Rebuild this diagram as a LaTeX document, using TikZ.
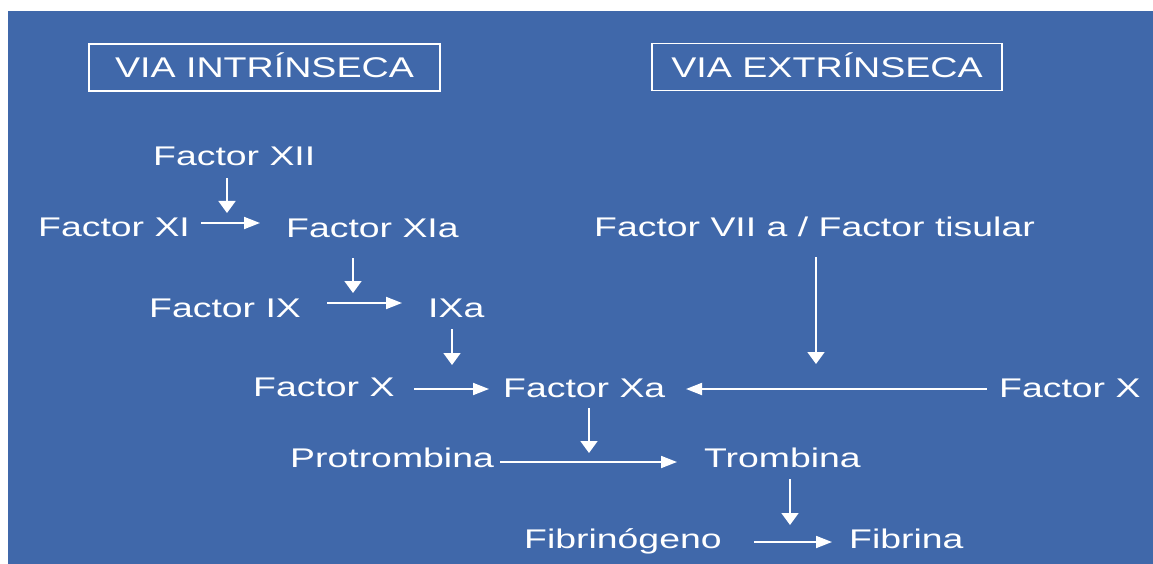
\documentclass[tikz,border=0pt]{standalone}
\usepackage{fontspec}
\usepackage{graphicx}
\setmainfont{Liberation Sans}
\usetikzlibrary{arrows.meta}
\definecolor{bgblue}{RGB}{64,104,170}
\newcommand\wtxt[1]{\scalebox{1.385}[1]{#1}}
\newcommand\wtitle[1]{\scalebox{1.32}[1]{#1}}
\tikzset{
  txt/.style={text=white, font=\fontsize{27}{30}\selectfont, inner sep=0pt, anchor=base west},
  titlebox/.style={draw=white, line width=1.6pt, text=white, font=\fontsize{28.5}{31}\selectfont,
    inner sep=0pt, text height=20.4pt, text depth=0pt, minimum height=47pt},
  harr/.style={draw=white, line width=1.8pt, -{Triangle[length=16pt,width=12pt]}},
  varr/.style={draw=white, line width=1.8pt, -{Triangle[length=12pt,width=17pt]}}
}
\begin{document}
\begin{tikzpicture}[x=1pt,y=-1pt]
\useasboundingbox (0,0) rectangle (1153,564);
\fill[bgblue] (8,11) rectangle (1153,564);
% titles
\node[titlebox, minimum width=351pt] (tin) at (264.5,67.5) {\wtitle{VIA INTRÍNSECA}};
\node[titlebox, minimum width=350pt] (tex) at (827,67) {\wtitle{VIA EXTRÍNSECA}};
% text nodes
\node[txt] (f12) at (153,166) {\wtxt{Factor XII}};
\node[txt] (f11) at (38,236) {\wtxt{Factor XI}};
\node[txt] (f11a) at (286,237) {\wtxt{Factor XIa}};
\node[txt] (f9) at (149,317) {\wtxt{Factor IX}};
\node[txt] (f9a) at (428,317) {\wtxt{IXa}};
\node[txt] (f10l) at (253,396) {\wtxt{Factor X}};
\node[txt] (f10a) at (503,397) {\wtxt{Factor Xa}};
\node[txt] (f7) at (594,236) {\wtxt{Factor VII a / Factor tisular}};
\node[txt] (f10r) at (999,397) {\wtxt{Factor X}};
\node[txt] (prot) at (290,467) {\wtxt{Protrombina}};
\node[txt] (trom) at (704,467) {\wtxt{Trombina}};
\node[txt] (fibg) at (524,548) {\wtxt{Fibrinógeno}};
\node[txt] (fibr) at (849,548) {\wtxt{Fibrina}};
% arrow end points
\coordinate (a1s) at (227,178); \coordinate (a1e) at (227,213);
\coordinate (a2s) at (201,223); \coordinate (a2e) at (260,223);
\coordinate (a3s) at (353,258); \coordinate (a3e) at (353,293);
\coordinate (a4s) at (327,303); \coordinate (a4e) at (402,303);
\coordinate (a5s) at (452,329); \coordinate (a5e) at (452,365);
\coordinate (a6s) at (414,389); \coordinate (a6e) at (489,389);
\coordinate (a7s) at (816,257); \coordinate (a7e) at (816,364);
\coordinate (a8s) at (987,389); \coordinate (a8e) at (686,389);
\coordinate (a9s) at (589,408); \coordinate (a9e) at (589,453);
\coordinate (a10s) at (500,462); \coordinate (a10e) at (677,462);
\coordinate (a11s) at (790,479); \coordinate (a11e) at (790,525);
\coordinate (a12s) at (754,542); \coordinate (a12e) at (832,542);
% arrows
\draw[varr] (a1s) -- (a1e);
\draw[harr] (a2s) -- (a2e);
\draw[varr] (a3s) -- (a3e);
\draw[harr] (a4s) -- (a4e);
\draw[varr] (a5s) -- (a5e);
\draw[harr] (a6s) -- (a6e);
\draw[varr] (a7s) -- (a7e);
\draw[harr] (a8s) -- (a8e);
\draw[varr] (a9s) -- (a9e);
\draw[harr] (a10s) -- (a10e);
\draw[varr] (a11s) -- (a11e);
\draw[harr] (a12s) -- (a12e);
\end{tikzpicture}
\end{document}
